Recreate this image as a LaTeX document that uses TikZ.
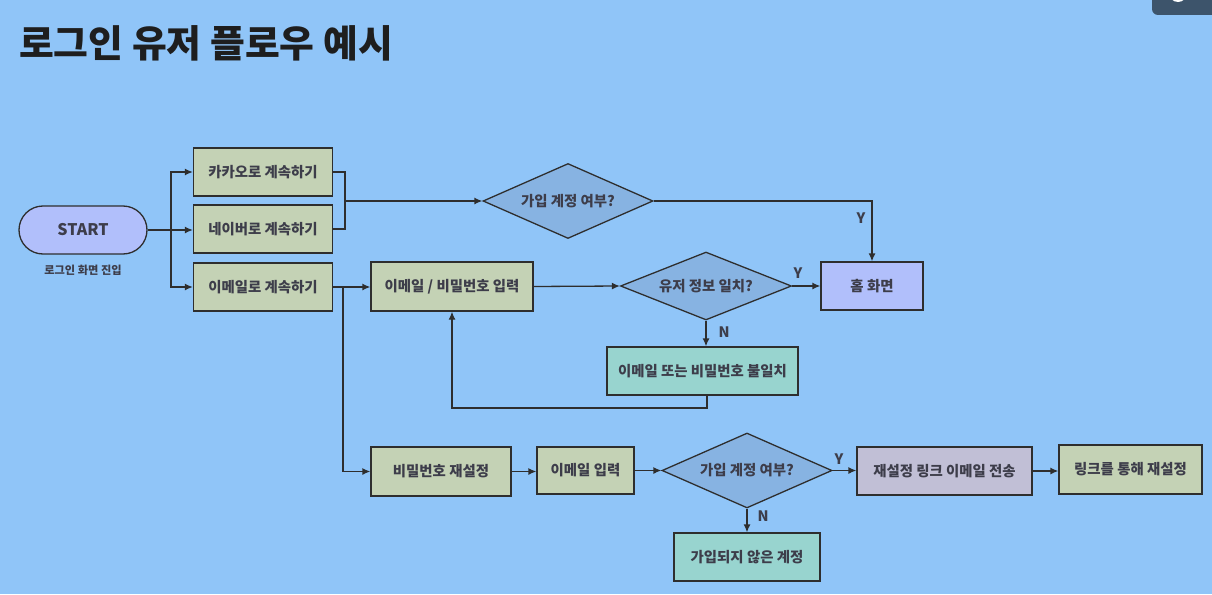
\documentclass[tikz,border=0pt]{standalone}
\usepackage{fontspec}
\setmainfont{Noto Sans CJK KR}
\usetikzlibrary{shapes.geometric,arrows.meta}
\definecolor{bgc}{HTML}{90C5F8}
\definecolor{greenc}{HTML}{C4D2B5}
\definecolor{diac}{HTML}{87B3E2}
\definecolor{lavc}{HTML}{B1BFFB}
\definecolor{tealc}{HTML}{98D4CF}
\definecolor{lilac}{HTML}{C1BFD6}
\definecolor{linec}{HTML}{2E2E2E}
\definecolor{txtc}{HTML}{3D3D4A}
\definecolor{titlec}{HTML}{1E1E1E}
\definecolor{uibar}{HTML}{3D546B}
\begin{document}
\begin{tikzpicture}[x=1pt,y=-1pt,
  every node/.style={font=\fontsize{14.4}{16}\selectfont\bfseries, text=txtc},
  boxst/.style={draw=linec, line width=1.3pt, rectangle, inner sep=0pt, minimum height=48pt},
  greenbox/.style={boxst, fill=greenc},
  tealbox/.style={boxst, fill=tealc},
  diast/.style={draw=linec, line width=1.3pt, diamond, aspect=2.27, inner sep=0pt, fill=diac, minimum width=170pt, minimum height=75pt},
  conn/.style={draw=linec, line width=1.3pt, -{Latex[length=8pt,width=7pt]}},
  plain/.style={draw=linec, line width=1.3pt},
  yn/.style={font=\fontsize{14.4}{16}\selectfont\bfseries, text=txtc, inner sep=0pt}
]
\useasboundingbox (0,0) rectangle (1212,594);
\fill[bgc] (0,0) rectangle (1212,594);
% UI element top right
\fill[uibar, rounded corners=6pt] (1152,-10) rectangle (1220,15);
\fill[white] (1178,-7) circle (9);

\node[anchor=west, font=\fontsize{37.8}{40}\selectfont\bfseries, text=titlec, inner sep=0pt] (title) at (19,43) {로그인 유저 플로우 예시};

\node[draw=linec, line width=1.3pt, fill=lavc, rounded corners=24pt, minimum width=128pt, minimum height=48pt, inner sep=0pt, font=\fontsize{16}{18}\selectfont\bfseries] (start) at (83,230) {START};
\node[font=\fontsize{11.2}{12}\selectfont\bfseries, text=txtc, inner sep=0pt] (startlbl) at (83,270) {로그인 화면 진입};

\node[greenbox, minimum width=139pt] (kakao) at (263,172) {카카오로 계속하기};
\node[greenbox, minimum width=139pt] (naver) at (263,229) {네이버로 계속하기};
\node[greenbox, minimum width=139pt] (email) at (263,287) {이메일로 계속하기};

\node[diast] (d1) at (568,201) {가입 계정 여부?};
\node[boxst, fill=lavc, minimum width=102pt] (home) at (872,286) {홈 화면};
\node[greenbox, minimum width=162pt, minimum height=49pt] (pwinput) at (452,286.5) {이메일 / 비밀번호 입력};
\node[diast, minimum width=171pt, minimum height=68pt] (d2) at (706,286) {유저 정보 일치?};
\node[tealbox, minimum width=191pt] (mismatch) at (702.5,371) {이메일 또는 비밀번호 불일치};

\node[greenbox, minimum width=140pt, minimum height=49pt] (reset) at (441,471.5) {비밀번호 재설정};
\node[greenbox, minimum width=97pt, minimum height=47pt] (emailin) at (585.5,470.5) {이메일 입력};
\node[diast] (d3) at (747,470.5) {가입 계정 여부?};
\node[tealbox, minimum width=146pt] (notreg) at (747,557) {가입되지 않은 계정};
\node[boxst, fill=lilac, minimum width=175pt] (sendlink) at (944.5,471) {재설정 링크 이메일 전송};
\node[greenbox, minimum width=143pt, minimum height=49pt] (linkreset) at (1130.5,469.5) {링크를 통해 재설정};

% connectors
\coordinate (j0) at (171,230);
\draw[conn] (start.east) -- (start.east -| naver.west);
\draw[conn] (j0) |- (kakao.west);
\draw[conn] (j0) |- (email.west);

\coordinate (b1) at (345,201);
\draw[plain] (kakao.east) -| (b1) |- (naver.east);
\draw[conn] (b1) -- (d1.west);
\draw[conn] (d1.east) -| (home.north);
\node[yn] (y1) at (861,218) {Y};

\draw[conn] (email.east) -- (email.east -| pwinput.west);
\coordinate (b2) at (343,287);
\draw[conn] (b2) |- (reset.west);

\draw[conn] (pwinput.east) -- (d2.west);
\draw[conn] (d2.east) -- (home.west);
\node[yn] (y2) at (798,273) {Y};
\draw[conn] (d2.south) -- (d2.south |- mismatch.north);
\node[yn] (n2) at (724,332) {N};
\coordinate (lp) at (707,408);
\draw[conn] (lp |- mismatch.south) -- (lp) -| (pwinput.south);

\draw[conn] (reset.east) -- (reset.east -| emailin.west);
\draw[conn] (emailin.east) -- (d3.west);
\draw[conn] (d3.south) -- (notreg.north);
\node[yn] (n3) at (763,516) {N};
\draw[conn] (d3.east) -- (d3.east -| sendlink.west);
\node[yn] (y3) at (839,459) {Y};
\draw[conn] (sendlink.east) -- (sendlink.east -| linkreset.west);
\end{tikzpicture}
\end{document}
